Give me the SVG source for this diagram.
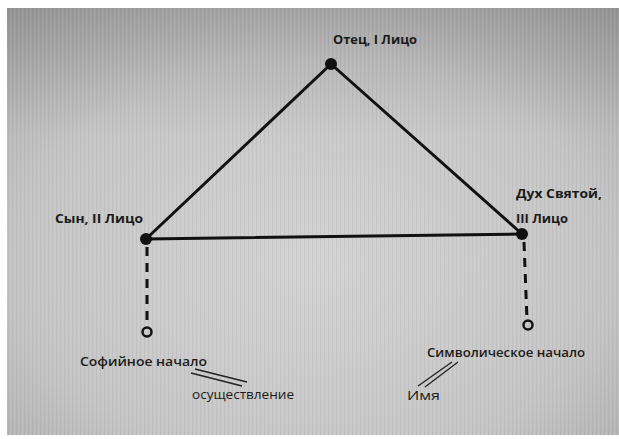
<svg xmlns="http://www.w3.org/2000/svg" width="619" height="439" viewBox="0 0 619 439">
  <defs>
    <radialGradient id="screen" cx="0.5" cy="0.6" r="0.8">
      <stop offset="0" stop-color="#d4d4d4"/>
      <stop offset="0.6" stop-color="#c6c6c6"/>
      <stop offset="1" stop-color="#a6a6a6"/>
    </radialGradient>
    <linearGradient id="topShade" x1="0" y1="0" x2="0" y2="1">
      <stop offset="0" stop-color="#000" stop-opacity="0.12"/>
      <stop offset="0.3" stop-color="#000" stop-opacity="0"/>
      <stop offset="1" stop-color="#000" stop-opacity="0"/>
    </linearGradient>
    <pattern id="stripes" width="4" height="10" patternUnits="userSpaceOnUse">
      <rect x="0" y="0" width="1" height="10" fill="#000" opacity="0.05"/>
      <rect x="2" y="0" width="1" height="10" fill="#fff" opacity="0.05"/>
    </pattern>
    <style>
      .edge { stroke: #111; stroke-width: 3; fill: none; stroke-linecap: round; }
      .dash { stroke: #111; stroke-width: 3; fill: none; stroke-dasharray: 9 7; }
      .tie { stroke: #222; stroke-width: 1.3; fill: none; }
      .dot { fill: #111; }
      .ring { fill: none; stroke: #111; stroke-width: 2.5; }
      .lbl { font-family: "Open Sans", "Noto Sans", "DejaVu Sans", sans-serif; font-size: 13px; font-weight: 700; fill: #1a1a1a; }
      .sub { font-family: "Open Sans", "Noto Sans", "DejaVu Sans", sans-serif; font-size: 13px; font-weight: 600; fill: #1a1a1a; }
      .thin { font-family: "Open Sans", "Noto Sans", "DejaVu Sans", sans-serif; font-size: 13px; font-weight: 400; fill: #1a1a1a; }
    </style>
  </defs>

  <!-- page and screen surface -->
  <rect x="0" y="0" width="619" height="439" fill="#ffffff"/>
  <rect x="7" y="8" width="612" height="427" fill="url(#screen)"/>
  <rect x="7" y="8" width="612" height="427" fill="url(#topShade)"/>
  <rect x="7" y="8" width="612" height="427" fill="url(#stripes)"/>

  <!-- connectors -->
  <g id="connectors">
    <line class="edge" x1="331" y1="64" x2="146" y2="239"/>
    <line class="edge" x1="331" y1="64" x2="522" y2="234"/>
    <line class="edge" x1="146" y1="239" x2="522" y2="234"/>
    <line class="dash" x1="147" y1="247" x2="147" y2="327"/>
    <line class="dash" x1="524" y1="242" x2="527" y2="320"/>
    <line class="tie" x1="195" y1="369" x2="247" y2="382"/>
    <line class="tie" x1="191" y1="373" x2="242" y2="386"/>
    <line class="tie" x1="418" y1="386" x2="452" y2="362"/>
    <line class="tie" x1="425" y1="387" x2="458" y2="362"/>
  </g>

  <g id="father">
    <circle class="dot" cx="331" cy="64" r="6"/>
    <text class="lbl" x="333" y="44" textLength="84" lengthAdjust="spacingAndGlyphs">Отец, I Лицо</text>
  </g>

  <g id="son">
    <circle class="dot" cx="146" cy="239" r="6"/>
    <text class="lbl" x="55" y="223" textLength="88" lengthAdjust="spacingAndGlyphs">Сын, II Лицо</text>
  </g>

  <g id="spirit">
    <circle class="dot" cx="522" cy="234" r="6"/>
    <text class="lbl" x="516" y="198" textLength="86" lengthAdjust="spacingAndGlyphs">Дух Святой,</text>
    <text class="lbl" x="516" y="223" textLength="52" lengthAdjust="spacingAndGlyphs">III Лицо</text>
  </g>

  <g id="sophia">
    <circle class="ring" cx="147" cy="332" r="4.5"/>
    <text class="sub" x="80" y="366" textLength="127" lengthAdjust="spacingAndGlyphs">Софийное начало</text>
  </g>

  <g id="symbol">
    <circle class="ring" cx="528" cy="325" r="4.5"/>
    <text class="sub" x="427" y="357" textLength="158" lengthAdjust="spacingAndGlyphs">Символическое начало</text>
  </g>

  <g id="realization">
    <text class="thin" x="192" y="399" textLength="102" lengthAdjust="spacingAndGlyphs">осуществление</text>
  </g>

  <g id="name">
    <text class="thin" x="407" y="400" textLength="33" lengthAdjust="spacingAndGlyphs">Имя</text>
  </g>
</svg>
